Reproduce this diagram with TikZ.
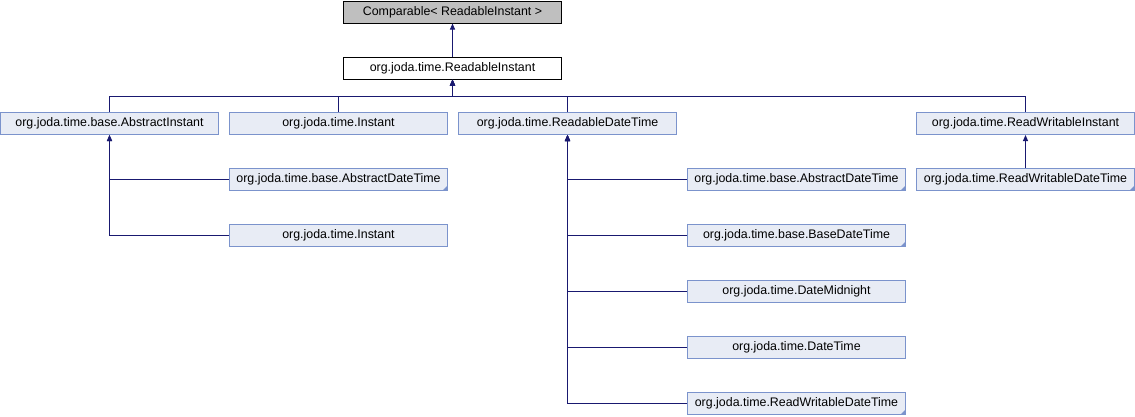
\documentclass[tikz,border=0pt]{standalone}
\usepackage{fontspec}
\setmainfont{Liberation Sans}
\usetikzlibrary{arrows.meta}
\definecolor{boxfill}{HTML}{E8ECF5}
\definecolor{boxline}{HTML}{7B93CC}
\definecolor{edge}{HTML}{191970}
\definecolor{basefill}{HTML}{BFBFBF}
\tikzset{
  cls/.style={draw=boxline, fill=boxfill, line width=1pt, minimum width=218pt, minimum height=22pt, inner sep=0pt, font=\fontsize{12.4pt}{14pt}\selectfont},
  basecls/.style={cls, draw=black, fill=basefill},
  topcls/.style={cls, draw=black, fill=white},
  arr/.style={draw=edge, line width=1pt, -{Triangle[length=6pt,width=5pt]}},
}
\newcommand{\moretri}[1]{\fill[boxline] ([shift={(-0.5pt,0.5pt)}]#1.south east) -- ++(-5pt,0) -- ++(5pt,5pt) -- cycle;}
\begin{document}
\begin{tikzpicture}[x=1pt,y=-1pt]
\useasboundingbox (0,0) rectangle (1135,416);
\node[basecls] (cmp) at (452.5,12) {Comparable< ReadableInstant >};
\node[topcls] (ri) at (452.5,68) {org.joda.time.ReadableInstant};
\node[cls] (ai) at (109.5,123.5) {org.joda.time.base.AbstractInstant};
\node[cls] (in1) at (338.5,123.5) {org.joda.time.Instant};
\node[cls] (rdt) at (567.5,123.5) {org.joda.time.ReadableDateTime};
\node[cls] (rwi) at (1025.5,123.5) {org.joda.time.ReadWritableInstant};
\node[cls] (adt1) at (338.5,179.5) {org.joda.time.base.AbstractDateTime};
\node[cls] (in2) at (338.5,235.5) {org.joda.time.Instant};
\node[cls] (adt2) at (796.5,179.5) {org.joda.time.base.AbstractDateTime};
\node[cls] (bdt) at (796.5,235.5) {org.joda.time.base.BaseDateTime};
\node[cls] (dm) at (796.5,291.5) {org.joda.time.DateMidnight};
\node[cls] (dt) at (796.5,347.5) {org.joda.time.DateTime};
\node[cls] (rwdt1) at (796.5,403.5) {org.joda.time.ReadWritableDateTime};
\node[cls] (rwdt2) at (1025.5,179.5) {org.joda.time.ReadWritableDateTime};
\moretri{adt1}
\moretri{adt2}
\moretri{bdt}
\moretri{rwdt1}
\moretri{rwdt2}
\coordinate (bus) at (452.5,96.5);
\draw[arr] (ri.north) -- (cmp.south);
\draw[arr] (ai.north) |- (bus) -- (ri.south);
\draw[arr] (in1.north) |- (bus) -- (ri.south);
\draw[arr] (rdt.north) |- (bus) -- (ri.south);
\draw[arr] (rwi.north) |- (bus) -- (ri.south);
\draw[arr] (adt1.west) -| (ai.south);
\draw[arr] (in2.west) -| (ai.south);
\draw[arr] (adt2.west) -| (rdt.south);
\draw[arr] (bdt.west) -| (rdt.south);
\draw[arr] (dm.west) -| (rdt.south);
\draw[arr] (dt.west) -| (rdt.south);
\draw[arr] (rwdt1.west) -| (rdt.south);
\draw[arr] (rwdt2.north) -- (rwi.south);
\end{tikzpicture}
\end{document}
